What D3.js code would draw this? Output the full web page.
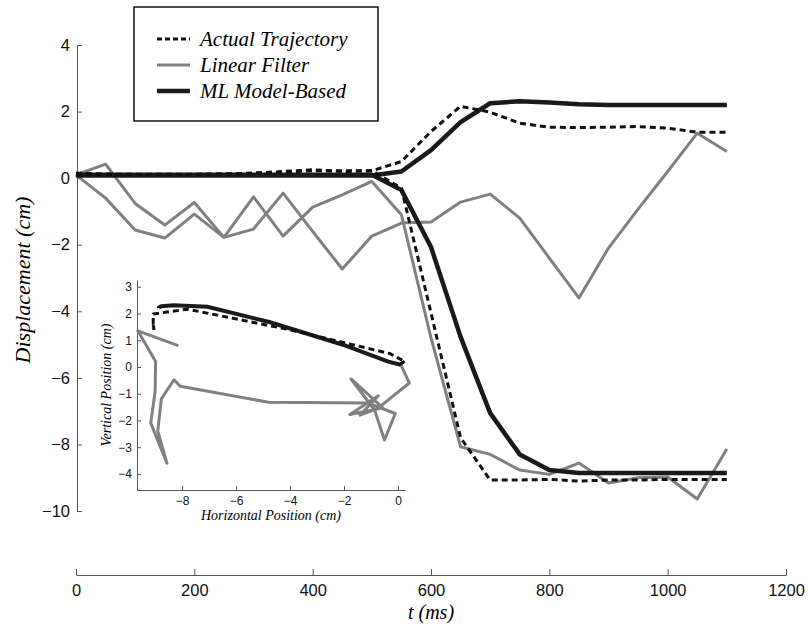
<!DOCTYPE html>
<html>
<head>
    <meta charset="utf-8">
    <title>Displacement vs time</title>
    <style>
        body { margin: 0; background: #fff; }
        svg { font-family: 'Liberation Sans', Arial, sans-serif; }
        .lbl { font-family: 'Liberation Serif', 'Times New Roman', serif; font-style: italic; }
        .axis path, .axis line { stroke: #555; }
        .axis text { fill: #111; }
    </style>
</head>
<body>
<div id="chart"></div>
<script src="https://cdn.jsdelivr.net/npm/d3@7"></script>
<script>
    // time samples (ms)
    const tMs = [0, 50, 100, 150, 200, 250, 300, 350, 400, 450, 500, 550,
                 600, 650, 700, 750, 800, 850, 900, 950, 1000, 1050, 1100];

    // actual trajectory (dashed)
    const actualVert  = [0.12, 0.12, 0.12, 0.12, 0.12, 0.13, 0.15, 0.18, 0.22, 0.22, 0.22, 0.5,
                         1.4, 2.16, 1.98, 1.65, 1.53, 1.52, 1.53, 1.55, 1.5, 1.38, 1.38];
    const actualHoriz = [0.15, 0.12, 0.1, 0.1, 0.1, 0.12, 0.15, 0.2, 0.25, 0.2, 0.22, -0.3,
                         -4.05, -7.8, -9.07, -9.07, -9.05, -9.1, -9.07, -9.07, -9.05, -9.05, -9.05];

    // linear filter (gray)
    const linearHoriz = [0.1, 0.42, -0.76, -1.41, -0.73, -1.78, -0.56, -1.74, -0.87, -0.5, -0.1, -1.1,
                         -4.8, -8.07, -8.3, -8.77, -8.9, -8.56, -9.16, -9.0, -8.98, -9.64, -8.14];
    const linearVert  = [0.1, -0.6, -1.56, -1.8, -1.08, -1.78, -1.53, -0.45, -1.6, -2.73, -1.74, -1.35,
                         -1.32, -0.72, -0.48, -1.2, -2.4, -3.6, -2.1, -0.93, 0.2, 1.35, 0.8];

    // ML model-based (thick black)
    const mlVert  = [0.08, 0.08, 0.08, 0.08, 0.08, 0.08, 0.08, 0.08, 0.08, 0.08, 0.08, 0.2,
                     0.84, 1.68, 2.25, 2.31, 2.27, 2.22, 2.2, 2.2, 2.2, 2.2, 2.2];
    const mlHoriz = [0.1, 0.1, 0.1, 0.1, 0.1, 0.1, 0.1, 0.1, 0.1, 0.1, 0.1, -0.36,
                     -2.07, -4.77, -7.06, -8.3, -8.77, -8.86, -8.86, -8.86, -8.86, -8.86, -8.86];

    const mainXTicks = [0, 200, 400, 600, 800, 1000, 1200];
    const mainYTicks = [-10, -8, -6, -4, -2, 0, 2, 4];
    const insetXTicks = [-8, -6, -4, -2, 0];
    const insetYTicks = [-4, -3, -2, -1, 0, 1, 2, 3];
    const legendNames = ["Actual Trajectory", "Linear Filter", "ML Model-Based"];

    const [width, height] = [808, 631];
    const fmt = d3.format("d");

    const styles = {
        actual: { stroke: "#111", width: 3, dash: "6,4" },
        linear: { stroke: "#808080", width: 3, dash: null },
        ml:     { stroke: "#1a1a1a", width: 4.5, dash: null }
    };

    const svg = d3.select("#chart")
                  .append("svg")
                  .attr("width", width)
                  .attr("height", height);

    //main scales
    const x = d3.scaleLinear().domain([0, 1200]).range([76, 786]);
    const y = d3.scaleLinear().domain([-10, 4]).range([511, 45]);

    svg.append("g")
        .attr("class", "axis")
        .attr("transform", "translate(0, 575)")
        .call(d3.axisBottom(x).tickValues(mainXTicks).tickFormat(fmt)
                .tickSizeInner(-6).tickSizeOuter(0).tickPadding(9))
        .selectAll("text").style("font-size", "16.5px");

    svg.append("g")
        .attr("class", "axis")
        .attr("transform", "translate(77, 0)")
        .call(d3.axisLeft(y).tickValues(mainYTicks).tickFormat(fmt)
                .tickSizeInner(-5).tickSizeOuter(0).tickPadding(7))
        .selectAll("text").style("font-size", "16.5px");

    svg.append("text")
        .attr("class", "lbl")
        .attr("x", 431)
        .attr("y", 619)
        .attr("text-anchor", "middle")
        .style("font-size", "20px")
        .text("t (ms)");

    svg.append("text")
        .attr("class", "lbl")
        .attr("transform", "translate(30, 280) rotate(-90)")
        .attr("text-anchor", "middle")
        .style("font-size", "22px")
        .text("Displacement (cm)");

    function drawLine(g, pts, st, w) {
        const p = g.append("path")
            .datum(pts)
            .attr("fill", "none")
            .attr("stroke", st.stroke)
            .attr("stroke-width", w || st.width)
            .attr("stroke-linejoin", "round")
            .attr("d", d3.line().x(d => d[0]).y(d => d[1]));
        if (st.dash) p.attr("stroke-dasharray", st.dash);
    }

    const mainPts = vals => tMs.map((t, i) => [x(t), y(vals[i])]);
    const plot = svg.append("g");
    drawLine(plot, mainPts(linearHoriz), styles.linear);
    drawLine(plot, mainPts(linearVert), styles.linear);
    drawLine(plot, mainPts(mlHoriz), styles.ml);
    drawLine(plot, mainPts(mlVert), styles.ml);
    drawLine(plot, mainPts(actualHoriz), styles.actual);
    drawLine(plot, mainPts(actualVert), styles.actual);

    // inset: horizontal vs vertical position
    const ix = d3.scaleLinear().domain([-9.67, 0.26]).range([137, 405]);
    const iy = d3.scaleLinear().domain([-4.6, 3.25]).range([490, 280]);

    svg.append("g")
        .attr("class", "axis")
        .attr("transform", "translate(0, 490)")
        .call(d3.axisBottom(ix).tickValues(insetXTicks).tickFormat(fmt)
                .tickSizeInner(-4).tickSizeOuter(0).tickPadding(6))
        .selectAll("text").style("font-size", "12px");

    svg.append("g")
        .attr("class", "axis")
        .attr("transform", "translate(137, 0)")
        .call(d3.axisLeft(iy).tickValues(insetYTicks).tickFormat(fmt)
                .tickSizeInner(-4).tickSizeOuter(0).tickPadding(5))
        .selectAll("text").style("font-size", "12px");

    svg.append("text")
        .attr("class", "lbl")
        .attr("x", 271)
        .attr("y", 520)
        .attr("text-anchor", "middle")
        .style("font-size", "14px")
        .text("Horizontal Position (cm)");

    svg.append("text")
        .attr("class", "lbl")
        .attr("transform", "translate(111, 385) rotate(-90)")
        .attr("text-anchor", "middle")
        .style("font-size", "14px")
        .text("Vertical Position (cm)");

    const insetPts = (hv, vv) => hv.map((h, i) => [ix(h), iy(vv[i])]);
    const inset = svg.append("g");
    drawLine(inset, insetPts(linearHoriz, linearVert), styles.linear);
    drawLine(inset, insetPts(mlHoriz, mlVert), styles.ml, 4);
    drawLine(inset, insetPts(actualHoriz, actualVert), styles.actual);

    // legend
    const legend = svg.append("g");
    legend.append("rect")
        .attr("x", 134).attr("y", 7)
        .attr("width", 244).attr("height", 114)
        .attr("fill", "#fff")
        .attr("stroke", "#111")
        .attr("stroke-width", 1.5);

    [styles.actual, styles.linear, styles.ml].forEach((st, i) => {
        const ly = 39 + i * 26;
        const l = legend.append("line")
            .attr("x1", 157).attr("x2", 190)
            .attr("y1", ly).attr("y2", ly)
            .attr("stroke", st.stroke)
            .attr("stroke-width", st.width);
        if (st.dash) l.attr("stroke-dasharray", "5,3");
        legend.append("text")
            .attr("class", "lbl")
            .attr("x", 200)
            .attr("y", ly + 7)
            .style("font-size", "21px")
            .text(legendNames[i]);
    });
</script>
</body>
</html>
